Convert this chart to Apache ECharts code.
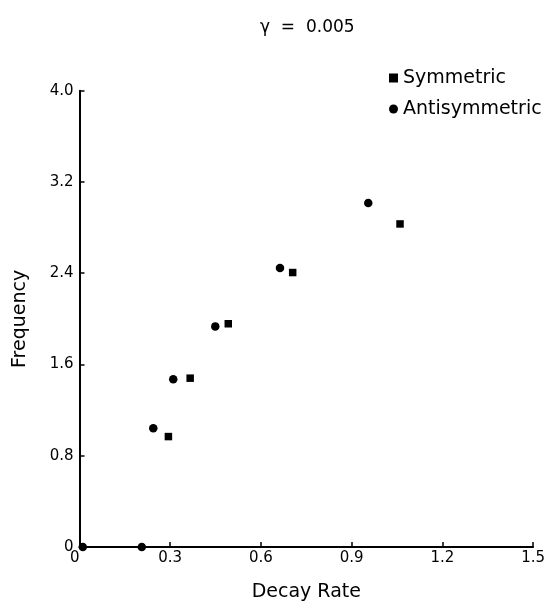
<!DOCTYPE html>
<html>
<head>
<meta charset="utf-8">
<script src="https://cdn.jsdelivr.net/npm/echarts@6/dist/echarts.min.js"></script>
<style>
html,body{margin:0;padding:0;background:#fff;}
#chart{width:548px;height:607px;}
</style>
</head>
<body>
<div id="chart"></div>
<script>
// ---- data ----
const titleText = 'γ  =  0.005';
const seriesNames = ['Symmetric', 'Antisymmetric'];
const symX = [0.294, 0.366, 0.492, 0.705, 1.060];
const symY = [0.968, 1.480, 1.957, 2.406, 2.832];
const antiX = [0.011, 0.206, 0.244, 0.310, 0.449, 0.663, 0.955];
const antiY = [0.000, 0.000, 1.040, 1.471, 1.934, 2.446, 3.016];
const xTickLabels = ['0', '0.3', '0.6', '0.9', '1.2', '1.5'];
const yTickLabels = ['0', '0.8', '1.6', '2.4', '3.2', '4.0'];
const xName = 'Decay Rate';
const yName = 'Frequency';

const FONT = 'DejaVu Sans';
const chart = echarts.init(document.getElementById('chart'), null, {renderer: 'canvas'});

const pairs = (xs, ys) => xs.map((x, i) => [x, ys[i]]);

chart.setOption({
  animation: false,
  backgroundColor: '#ffffff',
  title: {
    text: titleText,
    left: 255,
    top: 14,
    textStyle: {fontFamily: FONT, fontSize: 17, fontWeight: 'normal', color: '#000'}
  },
  legend: {
    orient: 'vertical',
    left: 384,
    top: 63,
    itemWidth: 9,
    itemHeight: 9,
    itemGap: 11,
    data: [
      {name: seriesNames[0], icon: 'rect'},
      {name: seriesNames[1], icon: 'circle'}
    ],
    itemStyle: {color: '#000', opacity: 1},
    textStyle: {fontFamily: FONT, fontSize: 19, lineHeight: 20, color: '#000'}
  },
  grid: {left: 79.5, right: 14.7, top: 90.7, bottom: 55.5, containLabel: false},
  xAxis: {
    type: 'value',
    min: 0, max: 1.5, interval: 0.3,
    name: xName,
    nameLocation: 'middle',
    nameGap: 36,
    nameTextStyle: {fontFamily: FONT, fontSize: 19, color: '#000'},
    axisLine: {show: true, onZero: false, lineStyle: {color: '#000', width: 2}},
    axisTick: {show: true, inside: true, length: 5, lineStyle: {color: '#000', width: 1.5}},
    axisLabel: {
      fontFamily: FONT, fontSize: 15, color: '#000', margin: 4,
      alignMinLabel: 'right',
      formatter: v => xTickLabels[Math.round(v / 0.3)]
    },
    splitLine: {show: false}
  },
  yAxis: {
    type: 'value',
    min: 0, max: 4, interval: 0.8,
    name: yName,
    nameLocation: 'middle',
    nameGap: 50,
    nameTextStyle: {fontFamily: FONT, fontSize: 19, color: '#000'},
    axisLine: {show: true, onZero: false, lineStyle: {color: '#000', width: 2}},
    axisTick: {show: true, inside: true, length: 5, lineStyle: {color: '#000', width: 1.5}},
    axisLabel: {
      fontFamily: FONT, fontSize: 15, color: '#000', margin: 6,
      formatter: v => yTickLabels[Math.round(v / 0.8)]
    },
    splitLine: {show: false}
  },
  series: [
    {
      name: seriesNames[0],
      type: 'scatter',
      symbol: 'rect',
      symbolSize: 7.5,
      itemStyle: {color: '#000', opacity: 1},
      data: pairs(symX, symY)
    },
    {
      name: seriesNames[1],
      type: 'scatter',
      symbol: 'circle',
      symbolSize: 8.5,
      itemStyle: {color: '#000', opacity: 1},
      data: pairs(antiX, antiY)
    }
  ]
});
</script>
</body>
</html>
